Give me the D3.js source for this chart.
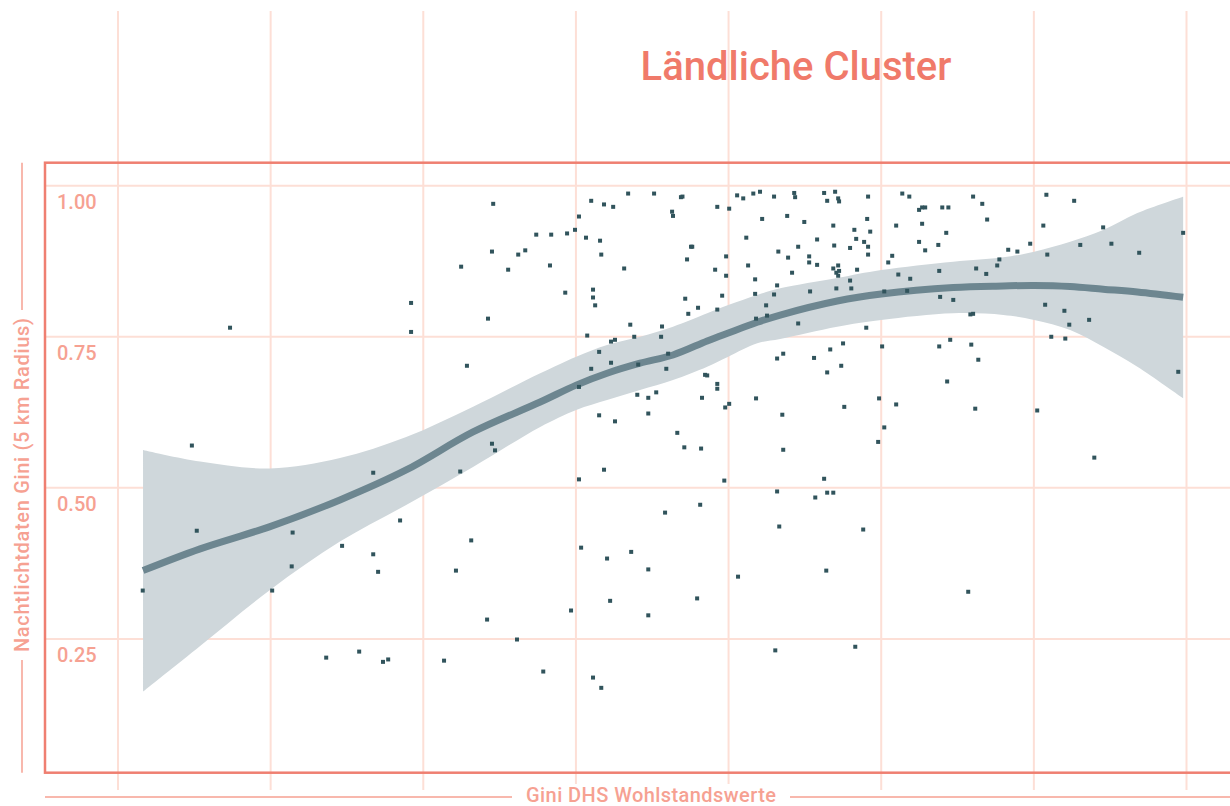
<!DOCTYPE html>
<html>
<head>
<meta charset="utf-8">
<script src="https://cdn.jsdelivr.net/npm/d3@7/dist/d3.min.js"></script>
<style>
  html, body { margin: 0; padding: 0; background: #ffffff; }
  svg { display: block; }
  text { font-family: Roboto, "Noto Sans", sans-serif; }
</style>
</head>
<body>
<svg id="chart" width="1230" height="806"></svg>
<script>
// ---------- data ----------
const chartTitle = "Ländliche Cluster";
const xAxisTitle = "Gini DHS Wohlstandswerte";
const yAxisTitle = "Nachtlichtdaten Gini (5 km Radius)";

const xTicks = [0.25, 0.30, 0.35, 0.40, 0.45, 0.50, 0.55, 0.60];
const yTicks = [0.25, 0.50, 0.75, 1.00];
const yTickLabels = ["0.25", "0.50", "0.75", "1.00"];

const pointsX = [
  0.3729,0.4171,0.4256,0.4344,0.4349,0.4528,0.4548,0.4581,0.4603,0.4649,
  0.4050,0.4092,0.4122,0.4463,0.4502,0.4010,0.4315,0.4318,0.4610,0.3870,
  0.3919,0.3971,0.3997,0.4033,0.4079,0.4558,0.3725,0.3811,0.3834,0.4083,
  0.4377,0.4381,0.4663,0.4492,0.3624,0.3778,0.3915,0.4158,0.4364,0.4456,
  0.4564,0.4492,0.4587,0.4659,0.3460,0.3965,0.4056,0.4056,0.4063,0.4358,
  0.4479,0.4587,0.4649,0.4400,0.4368,0.4463,0.4623,0.4590,0.4626,0.3712,
  0.3460,0.4178,0.4282,0.4037,0.4191,0.4279,0.4115,0.4128,0.4076,0.4302,
  0.4659,0.3643,0.4050,0.4115,0.4204,0.4296,0.4423,0.4430,0.4463,0.4463,
  0.4010,0.4201,0.4237,0.4263,0.4413,0.4502,0.4489,0.4590,0.4076,0.4128,
  0.4237,0.4332,0.4715,0.4718,0.4813,0.4849,0.4823,0.4859,0.4862,0.4957,
  0.4692,0.4748,0.4843,0.4954,0.4912,0.4964,0.4790,0.4918,0.4944,0.4728,
  0.4846,0.4898,0.4957,0.4957,0.4695,0.4764,0.4764,0.4790,0.4859,0.4843,
  0.4862,0.4853,0.4859,0.4921,0.4708,0.4898,0.4767,0.4853,0.4902,0.4728,
  0.4951,0.5069,0.5092,0.5301,0.5331,0.5124,0.5134,0.5144,0.5200,0.5220,
  0.5049,0.5134,0.5347,0.5213,0.5124,0.5187,0.5144,0.5036,0.5023,0.5190,
  0.5311,0.5344,0.5056,0.5095,0.5380,0.5387,0.5416,0.5446,0.5488,0.5541,
  0.5632,0.5531,0.5727,0.5652,0.5754,0.5544,0.5845,0.5989,0.5010,0.5085,
  0.5193,0.5236,0.5292,0.5301,0.5537,0.5600,0.5616,0.5681,0.5557,0.5603,
  0.5973,0.5226,0.5295,0.5190,0.5003,0.4875,0.4833,0.4679,0.4780,0.4869,
  0.4823,0.5318,0.5216,0.4993,0.5049,0.4879,0.5308,0.5511,0.4676,0.5010,
  0.4355,0.4410,0.3725,0.3735,0.3336,0.3621,0.4092,0.4010,0.4486,0.4659,
  0.3424,0.4292,0.4407,0.4666,0.3234,0.3657,0.4017,0.3336,0.3352,0.3607,
  0.4181,0.4102,0.4237,0.4531,0.4112,0.3984,0.4237,0.4397,0.3709,0.3807,
  0.3290,0.3368,0.3385,0.3568,0.3893,0.4056,0.4083,0.4653,0.4990,0.4679,
  0.4813,0.4823,0.4843,0.4784,0.4941,0.4820,0.5285,0.5698,0.4915,0.2742,
  0.2758,0.3072,0.3069,0.2581,0.3005,0.3182,0.2867
];
const pointsY = [
  0.970,0.987,0.987,0.981,0.982,0.984,0.979,0.987,0.990,0.982,
  0.975,0.969,0.965,0.965,0.962,0.949,0.957,0.950,0.945,0.919,
  0.919,0.921,0.927,0.914,0.909,0.914,0.891,0.886,0.893,0.886,
  0.899,0.899,0.891,0.883,0.866,0.861,0.868,0.863,0.878,0.861,
  0.868,0.851,0.845,0.835,0.806,0.823,0.828,0.815,0.802,0.813,
  0.818,0.821,0.820,0.798,0.788,0.795,0.802,0.780,0.785,0.780,
  0.758,0.770,0.767,0.752,0.750,0.750,0.742,0.745,0.725,0.722,
  0.714,0.702,0.697,0.707,0.704,0.697,0.687,0.686,0.672,0.664,
  0.667,0.654,0.649,0.658,0.649,0.639,0.633,0.648,0.620,0.610,
  0.623,0.591,0.988,0.981,0.988,0.990,0.975,0.979,0.974,0.982,
  0.950,0.940,0.934,0.945,0.927,0.924,0.911,0.912,0.907,0.899,
  0.901,0.897,0.899,0.886,0.881,0.883,0.873,0.869,0.868,0.863,
  0.859,0.856,0.851,0.861,0.856,0.843,0.825,0.830,0.830,0.772,
  0.765,0.987,0.982,0.982,0.970,0.960,0.964,0.964,0.964,0.964,
  0.934,0.937,0.944,0.922,0.907,0.902,0.893,0.884,0.873,0.859,
  0.863,0.854,0.853,0.846,0.868,0.878,0.894,0.891,0.904,0.985,
  0.975,0.934,0.931,0.902,0.904,0.886,0.889,0.922,0.825,0.826,
  0.816,0.811,0.787,0.788,0.803,0.793,0.770,0.778,0.750,0.747,
  0.692,0.745,0.737,0.734,0.734,0.739,0.729,0.722,0.715,0.702,
  0.691,0.712,0.676,0.648,0.638,0.634,0.631,0.628,0.621,0.600,
  0.567,0.565,0.573,0.562,0.525,0.527,0.530,0.514,0.512,0.494,
  0.446,0.459,0.472,0.436,0.404,0.413,0.401,0.390,0.361,0.363,
  0.394,0.383,0.365,0.353,0.313,0.297,0.289,0.317,0.282,0.249,
  0.229,0.212,0.216,0.214,0.196,0.186,0.169,0.231,0.576,0.563,
  0.515,0.492,0.492,0.484,0.431,0.363,0.328,0.550,0.237,0.570,
  0.429,0.426,0.370,0.330,0.330,0.219,0.765
];

// smoothed fit (loess) and its confidence band
const fitX  = [0.2582,0.2769,0.2998,0.3227,0.3444,0.3663,0.3883,0.4001,0.4102,0.4210,0.4318,0.4430,
               0.4499,0.4594,0.4669,0.4856,0.5000,0.5236,0.5400,0.5501,0.5619,0.5727,0.5839,0.5989];
const fitY  = [0.3630,0.3989,0.4358,0.4800,0.5296,0.5925,0.6420,0.6700,0.6896,0.7062,0.7199,0.7431,
               0.7563,0.7740,0.7860,0.8092,0.8208,0.8316,0.8341,0.8349,0.8332,0.8287,0.8241,0.8153];
const ciLow = [0.1628,0.2384,0.3311,0.4110,0.4717,0.5346,0.6008,0.6289,0.6454,0.6620,0.6785,0.7005,
               0.7171,0.7392,0.7464,0.7667,0.7778,0.7889,0.7861,0.7778,0.7613,0.7336,0.7005,0.6482];
const ciHigh= [0.5627,0.5434,0.5321,0.5495,0.5842,0.6343,0.6896,0.7171,0.7364,0.7502,0.7667,0.7889,
               0.8026,0.8192,0.8302,0.8473,0.8605,0.8743,0.8815,0.8908,0.9073,0.9267,0.9548,0.9818];

// ---------- layout ----------
const W = 1230, H = 806;
const box = { left: 45, top: 162.7, right: 1240, bottom: 772.7 };
const col = {
  grid: "#fddfd6", box: "#ef7f71", title: "#f07a6a", label: "#f6a192",
  band: "#cfd7db", line: "#6d8690", point: "#31545c"
};
const smooth = d3.curveCatmullRom.alpha(0.5);

const svg = d3.select("#chart");
const x = d3.scaleLinear().domain([0.25, 0.60]).range([118, 1186.5]);
const y = d3.scaleLinear().domain([0.25, 1.00]).range([638.9, 185.7]);

// title
svg.append("text")
  .attr("x", 796).attr("y", 80)
  .attr("text-anchor", "middle")
  .attr("font-size", 40).attr("font-weight", 500)
  .attr("fill", col.title)
  .text(chartTitle);

// x-axis title
const xtW = 250, xtCx = 651;
svg.append("text")
  .attr("x", xtCx - xtW / 2).attr("y", 802)
  .attr("font-size", 20).attr("font-weight", 500)
  .attr("textLength", xtW).attr("lengthAdjust", "spacing")
  .attr("fill", col.label)
  .text(xAxisTitle);
const xtL = xtCx - xtW / 2, xtR = xtCx + xtW / 2;

// vertical gridlines
svg.append("g").selectAll("line").data(xTicks).join("line")
  .attr("x1", d => x(d)).attr("x2", d => x(d))
  .attr("y1", 11)
  .attr("y2", d => (x(d) > xtL - 4 && x(d) < xtR + 4) ? 784 : 790)
  .attr("stroke", col.grid).attr("stroke-width", 2);

// horizontal gridlines
svg.append("g").selectAll("line").data(yTicks).join("line")
  .attr("x1", box.left).attr("x2", W)
  .attr("y1", d => y(d)).attr("y2", d => y(d))
  .attr("stroke", col.grid).attr("stroke-width", 2);

// x title side lines
svg.append("line").attr("x1", box.left).attr("x2", xtL - 14)
  .attr("y1", 797).attr("y2", 797).attr("stroke", col.label).attr("stroke-width", 1.5);
svg.append("line").attr("x1", xtR + 14).attr("x2", W)
  .attr("y1", 797).attr("y2", 797).attr("stroke", col.label).attr("stroke-width", 1.5);

// y-axis title
const ytLen = 334, ytC = 485;
svg.append("text")
  .attr("transform", `translate(29,${ytC + ytLen / 2}) rotate(-90)`)
  .attr("font-size", 20).attr("font-weight", 500)
  .attr("textLength", ytLen).attr("lengthAdjust", "spacing")
  .attr("fill", col.label)
  .text(yAxisTitle);
svg.append("line").attr("x1", 22).attr("x2", 22)
  .attr("y1", box.top).attr("y2", ytC - ytLen / 2 - 8)
  .attr("stroke", col.label).attr("stroke-width", 1.5);
svg.append("line").attr("x1", 22).attr("x2", 22)
  .attr("y1", ytC + ytLen / 2 + 8).attr("y2", box.bottom)
  .attr("stroke", col.label).attr("stroke-width", 1.5);

// confidence band
const bandData = fitX.map((d, i) => ({ x: d, lo: ciLow[i], hi: ciHigh[i] }));
svg.append("path").datum(bandData)
  .attr("d", d3.area().curve(smooth)
    .x(d => x(d.x)).y0(d => y(d.lo)).y1(d => y(d.hi)))
  .attr("fill", col.band);

// y tick labels
svg.append("g").selectAll("text").data(yTicks).join("text")
  .attr("x", 57).attr("y", d => y(d) + 23)
  .attr("font-size", 20).attr("font-weight", 500)
  .attr("fill", col.label)
  .text((d, i) => yTickLabels[i]);

// fit line
const fitData = fitX.map((d, i) => ({ x: d, y: fitY[i] }));
svg.append("path").datum(fitData)
  .attr("d", d3.line().curve(smooth).x(d => x(d.x)).y(d => y(d.y)))
  .attr("fill", "none").attr("stroke", col.line).attr("stroke-width", 7);

// points
const pts = pointsX.map((d, i) => ({ x: d, y: pointsY[i] }));
svg.append("g").selectAll("rect").data(pts).join("rect")
  .attr("x", d => x(d.x) - 2).attr("y", d => y(d.y) - 2)
  .attr("width", 4).attr("height", 4)
  .attr("fill", col.point);

// frame box
svg.append("rect")
  .attr("x", box.left).attr("y", box.top)
  .attr("width", box.right - box.left).attr("height", box.bottom - box.top)
  .attr("fill", "none").attr("stroke", col.box).attr("stroke-width", 2.5);
</script>
</body>
</html>
